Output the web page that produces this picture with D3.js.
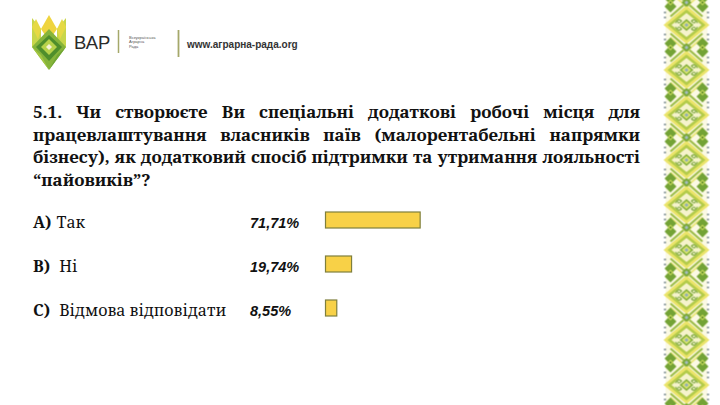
<!DOCTYPE html>
<html>
<head>
<meta charset="utf-8">
<script src="https://cdn.jsdelivr.net/npm/d3@7"></script>
<style>
  html, body { margin: 0; padding: 0; background: #ffffff; }
  svg { display: block; }
</style>
</head>
<body>
<svg id="chart" width="720" height="405"></svg>
<script>
// ---- data ----
const titleLines = [
  "5.1. Чи створюєте Ви спеціальні додаткові робочі місця для",
  "працевлаштування власників паїв (малорентабельні напрямки",
  "бізнесу), як додатковий спосіб підтримки та утримання лояльності",
  "“пайовиків”?"
];
const letters = ["A)", "B)", "C)"];
const answers = ["Так", "Ні", "Відмова відповідати"];
const values = [71.71, 19.74, 8.55];
const brandName = "ВАР";
const brandSub = ["Всеукраїнська", "Аграрна", "Рада"];
const siteUrl = "www.аграрна-рада.org";

// ---- setup ----
const svg = d3.select("#chart");
const W = 720, H = 405;
svg.append("rect").attr("width", W).attr("height", H).attr("fill", "#ffffff");

const serif = "'Noto Serif', 'DejaVu Serif', serif";
const sans = "'Liberation Sans', Arial, sans-serif";

// ---- embroidery column ----
const defs = svg.append("defs");
const tileW = 48, tileH = 45;
const pat = defs.append("pattern")
  .attr("id", "emb")
  .attr("patternUnits", "userSpaceOnUse")
  .attr("x", 662.5).attr("y", 2.5)
  .attr("width", tileW).attr("height", tileH);
const cx = tileW / 2, cy = tileH / 2;
const dia = (x, y, rx, ry) => `M${x - rx},${y}L${x},${y - ry}L${x + rx},${y}L${x},${y + ry}Z`;
pat.append("rect").attr("x", 3).attr("width", tileW - 6).attr("height", tileH).attr("fill", "#fbf9e4");
[0, tileH].forEach(yy => {
  pat.append("path").attr("d", `M${cx - 16},${yy - 14}L${cx + 16},${yy + 14}M${cx + 16},${yy - 14}L${cx - 16},${yy + 14}`)
    .attr("stroke", "#9dbd4a").attr("stroke-width", 2.2).attr("fill", "none");
  pat.append("path").attr("d", `M${cx - 16},${yy - 10}L${cx + 16},${yy + 18}M${cx + 16},${yy - 10}L${cx - 16},${yy + 18}`)
    .attr("stroke", "#ece87e").attr("stroke-width", 2).attr("fill", "none");
  pat.append("path").attr("d", dia(cx, yy, 5, 5)).attr("fill", "#7aa83a");
  pat.append("path").attr("d", dia(cx, yy, 2, 2)).attr("fill", "#a6bcc2");
  [8, tileW - 8].forEach(xx => {
    pat.append("path").attr("d", dia(xx, yy - 4, 6, 6)).attr("fill", "#74a336");
    pat.append("path").attr("d", dia(xx, yy + 4, 6, 6)).attr("fill", "#74a336");
    pat.append("path").attr("d", dia(xx, yy, 3, 3)).attr("fill", "#c2d656");
    pat.append("path").attr("d", dia(xx, yy, 1.2, 1.2)).attr("fill", "#4c7d27");
  });
});
pat.append("path").attr("d", dia(cx, cy, 23, 19)).attr("fill", "#ebe46a");
pat.append("path").attr("d", dia(cx, cy, 19, 15.5)).attr("fill", "#b3cb4a");
pat.append("path").attr("d", dia(cx, cy, 15, 12)).attr("fill", "#f6f3cc");
pat.append("path")
  .attr("d", `M${cx - 11},${cy - 2}q3,-5 6,-2q-2,3 -4,1 M${cx + 11},${cy + 2}q-3,5 -6,2q2,-3 4,-1 M${cx - 11},${cy + 2}q3,5 6,2q-2,-3 -4,-1 M${cx + 11},${cy - 2}q-3,-5 -6,-2q2,3 4,1`)
  .attr("fill", "none").attr("stroke", "#7aa63c").attr("stroke-width", 1.1);
pat.append("path").attr("d", dia(cx, cy, 7, 6)).attr("fill", "#84b03c");
pat.append("path").attr("d", dia(cx, cy, 4.5, 4)).attr("fill", "#dce56e");
pat.append("path").attr("d", dia(cx, cy, 2.2, 2)).attr("fill", "#93adb9");
[9, 14, 31, 36].forEach(yy => {
  [1.5, tileW - 3.5].forEach(xx => {
    pat.append("rect").attr("x", xx).attr("y", yy).attr("width", 2).attr("height", 2).attr("fill", "#8c9a9c");
  });
});
svg.append("rect").attr("x", 662.5).attr("y", 0).attr("width", tileW).attr("height", H).attr("fill", "url(#emb)");

// ---- logo ----
const logo = svg.append("g").attr("transform", "translate(32,15)");
const poly = (pts, fill) => logo.append("polygon").attr("points", pts.map(p => p.join(",")).join(" ")).attr("fill", fill);
poly([[0, 3], [9, 14], [9, 40], [0, 32]], "#c8d64a");
poly([[34, 3], [25, 14], [25, 40], [34, 32]], "#c8d64a");
poly([[9, 14], [17, 0], [25, 14], [17, 26]], "#efd43e");
poly([[4, 4], [9, 14], [6, 24], [0, 12]], "#e6d944");
poly([[30, 4], [25, 14], [28, 24], [34, 12]], "#e6d944");
poly([[0, 32], [17, 14], [34, 32], [17, 55]], "#86b43a");
poly([[4, 32], [17, 20], [30, 32], [17, 46]], "#4f8e2b");
poly([[9, 32], [17, 24], [25, 32], [17, 40]], "#b7d24a");
poly([[14, 32], [17, 29], [20, 32], [17, 35]], "#f5f3d5");
poly([[0, 32], [9, 40], [17, 55]], "#a5c743");
poly([[34, 32], [25, 40], [17, 55]], "#6fa534");

svg.append("text").attr("x", 74).attr("y", 48.5)
  .attr("font-family", sans).attr("font-size", 18.5).attr("fill", "#2b2b2b")
  .text(brandName);
svg.append("line").attr("x1", 118.5).attr("x2", 118.5).attr("y1", 30).attr("y2", 53)
  .attr("stroke", "#a5a86a").attr("stroke-width", 1.5);
svg.append("g").selectAll("text").data(brandSub).join("text")
  .attr("x", 129).attr("y", (d, i) => 39 + i * 4.3)
  .attr("font-family", sans).attr("font-size", 4).attr("fill", "#555")
  .text(d => d);
svg.append("line").attr("x1", 178.5).attr("x2", 178.5).attr("y1", 30).attr("y2", 57)
  .attr("stroke", "#a5a86a").attr("stroke-width", 1.8);
svg.append("text").attr("x", 187).attr("y", 48)
  .attr("font-family", sans).attr("font-size", 10).attr("font-weight", "bold").attr("fill", "#333")
  .text(siteUrl);

// ---- title (justified) ----
const tLeft = 33, tRight = 640, tTop = 118, tLead = 22.7;
let tSize = 17;
const tg = svg.append("g")
  .attr("font-family", serif).attr("font-weight", "bold")
  .attr("font-size", tSize).attr("fill", "#111");
const probe = tg.append("text").text(titleLines[2]);
const natural = probe.node().getComputedTextLength();
probe.remove();
if (natural > (tRight - tLeft) - 4) {
  tSize = tSize * ((tRight - tLeft) - 4) / natural;
  tg.attr("font-size", tSize);
}
titleLines.forEach((line, li) => {
  const words = line.split(" ");
  const y = tTop + li * tLead;
  const nodes = words.map(w => tg.append("text").attr("y", y).text(w));
  const widths = nodes.map(n => n.node().getComputedTextLength());
  const total = d3.sum(widths);
  const last = li === titleLines.length - 1;
  const gap = last || words.length < 2 ? 5 : (tRight - tLeft - total) / (words.length - 1);
  let x = tLeft;
  nodes.forEach((n, i) => { n.attr("x", x); x += widths[i] + gap; });
});

// ---- bars ----
const y = d3.scalePoint().domain(letters).range([220, 308]);
const x = d3.scaleLinear().domain([0, 100]).range([325.5, 457.5]);
const barH = 16;
const fmt = d3.formatLocale({ decimal: ",", thousands: " ", grouping: [3], currency: ["", ""] }).format(".2f");

const rows = svg.append("g").selectAll("g").data(letters).join("g");
rows.append("text")
  .attr("x", 33).attr("y", d => y(d) + 7.5)
  .attr("font-family", serif).attr("font-size", 16).attr("fill", "#111")
  .call(t => {
    t.append("tspan").attr("font-weight", "bold").text(d => d);
    t.append("tspan").attr("dx", (d, i) => i === 0 ? 5 : 9).text((d, i) => answers[i]);
  });
rows.append("text")
  .attr("x", 250).attr("y", d => y(d) + 7.5)
  .attr("font-family", sans).attr("font-size", 14.5).attr("font-weight", "bold").attr("font-style", "italic")
  .attr("fill", "#111")
  .text((d, i) => fmt(values[i]) + "%");
rows.append("rect")
  .attr("x", x(0)).attr("y", d => y(d) - barH / 2)
  .attr("width", (d, i) => x(values[i]) - x(0)).attr("height", barH)
  .attr("fill", "#f8d147").attr("stroke", "#7f7f3c").attr("stroke-width", 1.2);
</script>
</body>
</html>
